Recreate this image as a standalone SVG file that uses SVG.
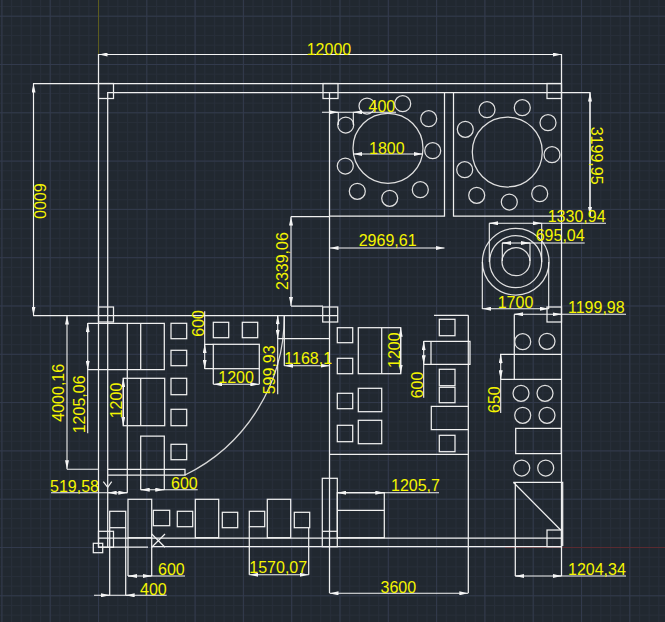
<svg xmlns="http://www.w3.org/2000/svg" width="665" height="622" viewBox="0 0 665 622">
<style>
.s{fill:none;stroke:#f0f0f0;stroke-width:1.25}
.c{fill:none;stroke:#e0e0e0;stroke-width:1.25}
.d{fill:none;stroke:#f4f4f4;stroke-width:1.1}
text{font-family:"Liberation Sans",Arial,sans-serif;font-size:16px;fill:#f5f500}
</style>
<defs>
<marker id="a" markerUnits="userSpaceOnUse" markerWidth="9" markerHeight="4" refX="9" refY="2" orient="auto-start-reverse"><path d="M0 0L9 2L0 4Z" fill="#f5f5f5"/></marker>
<pattern id="m" patternUnits="userSpaceOnUse" x="98" y="547" width="9.66" height="9.66"><path d="M0 .5H9.66M.5 0V9.66" fill="none" stroke="#272e39" stroke-width="1"/></pattern>
<pattern id="g" patternUnits="userSpaceOnUse" x="98" y="547" width="48.3" height="48.3"><path d="M0 .5H48.3M.5 0V48.3" fill="none" stroke="#323a4c" stroke-width="1"/></pattern>
</defs>
<rect width="665" height="622" fill="#212830"/>
<rect width="665" height="622" fill="url(#m)"/>
<rect width="665" height="622" fill="url(#g)"/>
<path d="M98.5 0V54" stroke="#5c5c1e" fill="none"/>
<path d="M505 547.5H665" stroke="#5a2a30" fill="none"/>
<g id="walls" class="s">
<path d="M33 83.5H562M107.7 92.5H590M33 315.5H338M98.5 54V547M107.7 92V547M561.5 54V576M329.5 92V593M468.3 315.3V593M98.5 538H561.5M98 547H148M152 546.7H561.5"/>
<rect x="98.5" y="83.5" width="15" height="15"/><rect x="323" y="83.5" width="15" height="15"/><rect x="547" y="83.5" width="14.5" height="15"/>
<rect x="98.5" y="307" width="15" height="15"/><rect x="322.7" y="307" width="15" height="15"/><rect x="547" y="307" width="14.5" height="15"/>
<rect x="98.5" y="531.3" width="15" height="16"/><rect x="322.3" y="478.3" width="15" height="68.4"/><path d="M322.3 531.3H337.3"/><rect x="547" y="530" width="14.5" height="16.7"/>
<rect x="93.3" y="543.3" width="9.4" height="9.4"/>
<path d="M151.7 534L165 547.3M165 534L151.7 547.3"/>
<path d="M103.3 481.7L107.7 487.3L111.7 481.7"/>
<path d="M284.3 315.3A177 177 0 0 1 185 475" stroke="#d8d8d8"/>
<path d="M107.7 469.3H185V475H107.7M284.3 315.3V365.7M277.7 338.7H329.5"/>
<path d="M329.5 216H444.5V92M453.5 92V216H561.5M291 216.5H329.5M291 306H323M329.5 454.3H468.3M434 315.3H468.3M514.3 314.5V379.3M500 354.3H561.5M500.7 379.3H561.5"/>
</g>
<g id="round-tables" class="c">
<circle cx="388" cy="148.3" r="35"/><circle cx="507.3" cy="152" r="35"/>
<circle cx="367" cy="106" r="8"/><circle cx="402.7" cy="103.7" r="8"/><circle cx="428.7" cy="118.7" r="8"/><circle cx="432.7" cy="150.7" r="8"/><circle cx="420.3" cy="189.7" r="8"/><circle cx="389.7" cy="198.3" r="8"/><circle cx="357.3" cy="191.3" r="8"/><circle cx="345.3" cy="166" r="8"/><circle cx="345.7" cy="125" r="8"/>
<circle cx="487" cy="109.7" r="8"/><circle cx="522.3" cy="107.7" r="8"/><circle cx="548" cy="122.7" r="8"/><circle cx="552" cy="154.7" r="8"/><circle cx="539.7" cy="193.7" r="8"/><circle cx="509.3" cy="202" r="8"/><circle cx="476.7" cy="195.3" r="8"/><circle cx="464.7" cy="169.7" r="8"/><circle cx="465.3" cy="129.3" r="8"/>
<circle cx="515.7" cy="261.7" r="33.3"/><circle cx="515.7" cy="261.7" r="26"/><circle cx="516" cy="261.7" r="14"/>
<circle cx="522.7" cy="341.7" r="8"/><circle cx="547" cy="341.3" r="8"/><circle cx="521" cy="393.3" r="8"/><circle cx="545" cy="393.3" r="8"/><circle cx="522.7" cy="415.3" r="8"/><circle cx="547" cy="415.3" r="8"/><circle cx="521.7" cy="468" r="8"/><circle cx="545.7" cy="468" r="8"/>
</g>
<g id="furniture" class="s">
<path d="M87.7 323.3H164.3V369.7H87.7M127.3 323.3V492.7M140.7 323.3V369.7"/>
<rect x="123.3" y="378.3" width="41.4" height="47.4"/><path d="M140.7 378.3V425.7"/>
<path d="M140.7 489.7V436H164.3V489.7"/>
<rect x="171" y="323.3" width="15.7" height="15.4"/><rect x="171" y="350.3" width="15.7" height="15.4"/><rect x="171" y="378.3" width="15.7" height="16.4"/><rect x="171" y="409.3" width="15.7" height="16.4"/><rect x="171" y="444.3" width="15.7" height="15.4"/>
<rect x="213.3" y="322.3" width="15.4" height="15.4"/><rect x="242.3" y="322.3" width="15.4" height="15.4"/>
<rect x="213.3" y="344.3" width="46" height="24.4"/><path d="M204.7 344.3H213.3M204.7 368.7H213.3M213.3 368.7V384.3M259.3 368.7V384.3"/>
<rect x="337.3" y="327.7" width="15.4" height="15"/><rect x="337.3" y="358.3" width="15.4" height="15.4"/><rect x="337.3" y="393.3" width="15.4" height="15.4"/><rect x="337.3" y="425.3" width="15.4" height="16.4"/>
<rect x="358.3" y="327.7" width="42.4" height="46"/><path d="M381.7 327.7V373.7"/>
<rect x="358.3" y="388.3" width="23.4" height="23.4"/><rect x="358.3" y="420.3" width="23.4" height="23.4"/>
<rect x="439.3" y="319.3" width="15.7" height="16.4"/><rect x="439.3" y="369.3" width="15.7" height="16.4"/><rect x="439.3" y="387.3" width="15.7" height="15.4"/><rect x="439.3" y="435.3" width="15.7" height="16.4"/>
<path d="M423.7 341.3H470V364.3H423.7M431 341.3V364.3"/><path d="M468.3 406.3H431.3V429.7H468.3"/>
<path d="M515.7 428.3H561.3V453.7H515.7Z"/>
<path d="M513.3 482.3H562.7V546M515.3 482.3V576M513.3 482.3L560.7 530"/>
<rect x="337.3" y="492.7" width="47" height="45"/><path d="M337.3 510.3H384.3"/>
<rect x="109.7" y="511.3" width="16" height="16.4"/><path d="M109.7 527.7V595.3M125.7 527.7V595.3"/>
<rect x="128" y="499.3" width="23.7" height="38.4"/><path d="M128 537.7V576M151.7 537.7V576"/>
<rect x="153.3" y="510.3" width="16.4" height="15.4"/><rect x="177.3" y="511.3" width="15.4" height="15.4"/>
<rect x="195.3" y="499.3" width="23.4" height="38.4"/><rect x="222.3" y="512.3" width="15.4" height="15.4"/>
<rect x="249.3" y="511.3" width="15.4" height="15.4"/><rect x="267.3" y="499.3" width="23.4" height="38.4"/><rect x="294.3" y="512.3" width="15.4" height="15.4"/>
<path d="M249.3 526.7V574.7M308.7 527.7V574.7"/>
</g>
<g id="dimension-lines" class="d">
<path d="M482.3 262V309M548.7 262V309M489.3 223.3V262M541.7 223.3V262M502.3 243V261M530 243V261M338.3 112.3V125M353.3 112.3V125M33.5 83V315M590 92V216"/>
<line x1="98.5" y1="54.5" x2="561.5" y2="54.5" marker-start="url(#a)" marker-end="url(#a)"/>
<line x1="33.5" y1="83.5" x2="33.5" y2="315.5" marker-start="url(#a)" marker-end="url(#a)"/>
<line x1="590" y1="92.5" x2="590" y2="216" marker-start="url(#a)" marker-end="url(#a)"/>
<line x1="291" y1="216.5" x2="291" y2="306" marker-start="url(#a)" marker-end="url(#a)"/>
<line x1="329.5" y1="248" x2="444.5" y2="248" marker-start="url(#a)" marker-end="url(#a)"/>
<line x1="353.3" y1="154" x2="422.7" y2="154" marker-start="url(#a)" marker-end="url(#a)"/>
<line x1="482.3" y1="308.7" x2="548.7" y2="308.7" marker-start="url(#a)" marker-end="url(#a)"/>
<line x1="329.5" y1="593.3" x2="468.3" y2="593.3" marker-start="url(#a)" marker-end="url(#a)"/>
<line x1="67" y1="315.5" x2="67" y2="469.3" marker-start="url(#a)" marker-end="url(#a)"/>
<line x1="123.3" y1="378.3" x2="123.3" y2="425.7" marker-start="url(#a)" marker-end="url(#a)"/>
<line x1="400.7" y1="327.7" x2="400.7" y2="373.7" marker-start="url(#a)" marker-end="url(#a)"/>
<line x1="284.3" y1="365.7" x2="329.5" y2="365.7" marker-start="url(#a)" marker-end="url(#a)"/>
<line x1="213.3" y1="384.3" x2="259.3" y2="384.3" marker-start="url(#a)" marker-end="url(#a)"/>
<line x1="249.3" y1="574.7" x2="308.7" y2="574.7" marker-start="url(#a)" marker-end="url(#a)"/>
<path d="M67 469.3H98M322 112.3H396M277.7 315.3V394.3M500.7 354.3V413M423.7 341.3V397.7M204.7 311.3V368.7M87.7 323.3V433.3M140.7 489.7H197.7M128 576H185M94 595.3H166.7M51 492.7H127.3M337.3 492.7H439M515.3 576H626M489.3 223.3H606M502.3 243H584.7M514.3 314.3H626"/>
<line x1="330" y1="112.3" x2="338.3" y2="112.3" marker-end="url(#a)"/><line x1="362" y1="112.3" x2="353.3" y2="112.3" marker-end="url(#a)"/>
<line x1="277.7" y1="325" x2="277.7" y2="315.3" marker-end="url(#a)"/><line x1="277.7" y1="329" x2="277.7" y2="338.7" marker-end="url(#a)"/>
<line x1="500.7" y1="364" x2="500.7" y2="354.3" marker-end="url(#a)"/><line x1="500.7" y1="370" x2="500.7" y2="379.3" marker-end="url(#a)"/>
<line x1="423.7" y1="351" x2="423.7" y2="341.3" marker-end="url(#a)"/><line x1="423.7" y1="355" x2="423.7" y2="364.3" marker-end="url(#a)"/>
<line x1="204.7" y1="353" x2="204.7" y2="344.3" marker-end="url(#a)"/><line x1="204.7" y1="360" x2="204.7" y2="368.7" marker-end="url(#a)"/>
<line x1="87.7" y1="333" x2="87.7" y2="323.3" marker-end="url(#a)"/><line x1="87.7" y1="360" x2="87.7" y2="369.7" marker-end="url(#a)"/>
<line x1="150" y1="489.7" x2="140.7" y2="489.7" marker-end="url(#a)"/><line x1="155" y1="489.7" x2="164.3" y2="489.7" marker-end="url(#a)"/>
<line x1="137" y1="576" x2="128" y2="576" marker-end="url(#a)"/><line x1="143" y1="576" x2="151.7" y2="576" marker-end="url(#a)"/>
<line x1="101" y1="595.3" x2="109.7" y2="595.3" marker-end="url(#a)"/><line x1="134" y1="595.3" x2="125.7" y2="595.3" marker-end="url(#a)"/>
<line x1="116" y1="492.7" x2="107.7" y2="492.7" marker-end="url(#a)"/><line x1="119" y1="492.7" x2="127.3" y2="492.7" marker-end="url(#a)"/>
<line x1="346" y1="492.7" x2="337.3" y2="492.7" marker-end="url(#a)"/><line x1="376" y1="492.7" x2="384.3" y2="492.7" marker-end="url(#a)"/>
<line x1="524" y1="576" x2="515.3" y2="576" marker-end="url(#a)"/><line x1="553" y1="576" x2="561.5" y2="576" marker-end="url(#a)"/>
<line x1="498" y1="223.3" x2="489.3" y2="223.3" marker-end="url(#a)"/><line x1="533" y1="223.3" x2="541.7" y2="223.3" marker-end="url(#a)"/>
<line x1="511" y1="243" x2="502.3" y2="243" marker-end="url(#a)"/><line x1="521" y1="243" x2="530" y2="243" marker-end="url(#a)"/>
<line x1="523" y1="314.3" x2="514.3" y2="314.3" marker-end="url(#a)"/><line x1="553" y1="314.3" x2="561.5" y2="314.3" marker-end="url(#a)"/>
</g>
<g id="dimension-text">
<text x="306.7" y="54.5">12000</text>
<text transform="translate(34 183.3) rotate(90)">6000</text>
<text transform="translate(591 126.7) rotate(90)">3199,95</text>
<text x="368.5" y="112">400</text>
<text x="369" y="153.5">1800</text>
<text x="358.7" y="246">2969,61</text>
<text x="547.7" y="222">1330,94</text>
<text x="535.7" y="240.7">695,04</text>
<text x="497.7" y="308">1700</text>
<text x="568" y="313">1199,98</text>
<text transform="translate(288 290) rotate(-90)">2339,06</text>
<text transform="translate(204 336.7) rotate(-90)">600</text>
<text transform="translate(64.3 421.7) rotate(-90)">4000,16</text>
<text transform="translate(85 433.3) rotate(-90)">1205,06</text>
<text transform="translate(122 418.3) rotate(-90)">1200</text>
<text x="218.3" y="383">1200</text>
<text transform="translate(275 394.3) rotate(-90)">599,93</text>
<text x="284.3" y="364">1168,1</text>
<text transform="translate(400 368) rotate(-90)">1200</text>
<text transform="translate(422.7 398.3) rotate(-90)">600</text>
<text transform="translate(500 413) rotate(-90)">650</text>
<text x="50" y="491.7">519,58</text>
<text x="171" y="489">600</text>
<text x="391" y="491">1205,7</text>
<text x="158" y="575.3">600</text>
<text x="249.3" y="572.7">1570,07</text>
<text x="140" y="595">400</text>
<text x="380.5" y="592.7">3600</text>
<text x="568" y="575">1204,34</text>
</g>
</svg>
